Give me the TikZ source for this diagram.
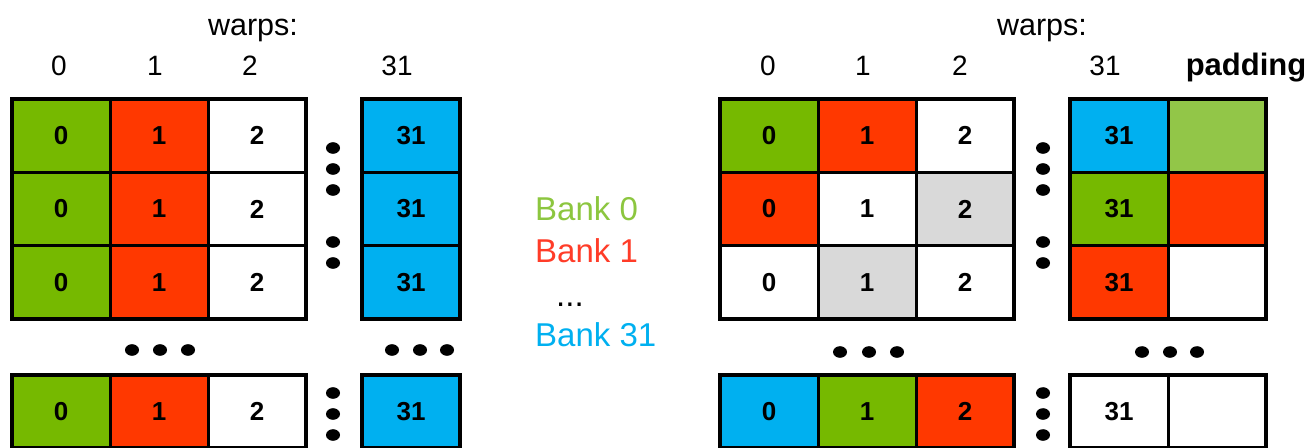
\documentclass[tikz,border=0pt]{standalone}
\usepackage{fontspec}
\setmainfont{Liberation Sans}
\usetikzlibrary{shapes.geometric}

\definecolor{nvgreen}{RGB}{118,185,0}
\definecolor{bankred}{RGB}{255,56,0}
\definecolor{bankblue}{RGB}{0,176,240}
\definecolor{padgreen}{RGB}{146,198,72}
\definecolor{cellgray}{RGB}{217,217,217}
\definecolor{txtgreen}{RGB}{140,198,63}
\definecolor{txtred}{RGB}{255,60,40}

\tikzset{
  cell/.style={draw=black, line width=3pt, minimum width=98pt, minimum height=73.3pt,
    inner sep=0pt, outer sep=0pt, font=\fontsize{26}{26}\selectfont\bfseries},
  frame/.style={draw=black, line width=4pt},
  hdr/.style={font=\fontsize{28}{28}\selectfont, inner sep=0pt, anchor=base},
  hdrword/.style={font=\fontsize{30.5}{30.5}\selectfont, inner sep=0pt, anchor=base},
  hdrbold/.style={font=\fontsize{31}{31}\selectfont\bfseries, inner sep=0pt, anchor=base},
  legend/.style={font=\fontsize{33}{33}\selectfont, inner sep=0pt, anchor=base west},
  blob/.style={fill=black},
}

\begin{document}
\begin{tikzpicture}[x=1pt, y=-1pt]
\useasboundingbox (0,0) rectangle (1308,447);
\clip (0,0) rectangle (1308,447);

% ---------- left layout: no padding ----------
\node[hdrword] (lwarps) at (253,35) {warps:};
\node[hdr] (lh0) at (59,75) {0};
\node[hdr] (lh1) at (155,75) {1};
\node[hdr] (lh2) at (250,75) {2};
\node[hdr] (lh31) at (397,75) {31};

\foreach \r/\y in {1/135.7, 2/209, 3/282.3, 4/411.7}{
  \node[cell, fill=nvgreen]  (L\r-1) at (61,\y)  {0};
  \node[cell, fill=bankred]  (L\r-2) at (159,\y) {1};
  \node[cell, fill=white]    (L\r-3) at (257,\y) {2};
  \node[cell, fill=bankblue] (L\r-4) at (411,\y) {31};
}
\draw[frame] (L1-1.north west) rectangle (L3-3.south east);
\draw[frame] (L1-4.north west) rectangle (L3-4.south east);
\draw[frame] (L4-1.north west) rectangle (L4-3.south east);
\draw[frame] (L4-4.north west) rectangle (L4-4.south east);

% ---------- right layout: one padding column ----------
\node[hdrword] (rwarps) at (1042,35) {warps:};
\node[hdr] (rh0) at (768,75) {0};
\node[hdr] (rh1) at (863,75) {1};
\node[hdr] (rh2) at (960,75) {2};
\node[hdr] (rh31) at (1105,75) {31};
\node[hdrbold] (rpad) at (1246,75) {padding};

\foreach \r/\y/\ca/\cb/\cc/\cd/\ce in {
    1/135.7/nvgreen/bankred/white/bankblue/padgreen,
    2/209/bankred/white/cellgray/nvgreen/bankred,
    3/282.3/white/cellgray/white/bankred/white,
    4/411.7/bankblue/nvgreen/bankred/white/white}{
  \node[cell, fill=\ca] (R\r-1) at (769,\y)  {0};
  \node[cell, fill=\cb] (R\r-2) at (867,\y)  {1};
  \node[cell, fill=\cc] (R\r-3) at (965,\y)  {2};
  \node[cell, fill=\cd] (R\r-4) at (1119,\y) {31};
  \node[cell, fill=\ce] (R\r-5) at (1217,\y) {};
}
\draw[frame] (R1-1.north west) rectangle (R3-3.south east);
\draw[frame] (R1-4.north west) rectangle (R3-5.south east);
\draw[frame] (R4-1.north west) rectangle (R4-3.south east);
\draw[frame] (R4-4.north west) rectangle (R4-5.south east);

% ---------- ellipsis dots ----------
\foreach \x in {132,160,188,392,420,447}
  \fill[blob] (\x,350) ellipse [x radius=7pt, y radius=5.8pt];
\foreach \x in {840,869,897,1142,1170,1197}
  \fill[blob] (\x,352) ellipse [x radius=7pt, y radius=5.8pt];
\foreach \y in {148,169,190,242,263,393,414,435}{
  \fill[blob] (333,\y) ellipse [x radius=7pt, y radius=5.8pt];
  \fill[blob] (1043,\y) ellipse [x radius=7pt, y radius=5.8pt];
}

% ---------- bank legend ----------
\node[legend, text=txtgreen] (bank0) at (535,220) {Bank 0};
\node[legend, text=txtred] (bank1) at (535,262) {Bank 1};
\node[legend] (bankdots) at (556,306) {...};
\node[legend, text=bankblue] (bank31) at (535,346) {Bank 31};
\end{tikzpicture}
\end{document}
